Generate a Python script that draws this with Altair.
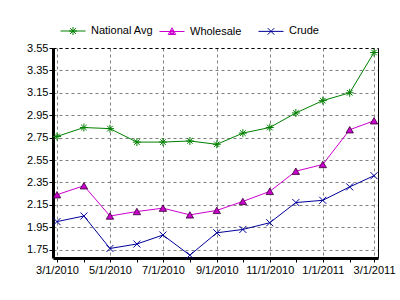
import altair as alt
import pandas as pd

dates = ["2010-03-01", "2010-04-01", "2010-05-01", "2010-06-01", "2010-07-01",
         "2010-08-01", "2010-09-01", "2010-10-01", "2010-11-01", "2010-12-01",
         "2011-01-01", "2011-02-01", "2011-03-01"]
national = [2.76, 2.84, 2.83, 2.71, 2.71, 2.72, 2.69, 2.79, 2.84, 2.97, 3.08, 3.15, 3.51]
wholesale = [2.24, 2.32, 2.05, 2.09, 2.12, 2.06, 2.10, 2.18, 2.27, 2.45, 2.51, 2.82, 2.90]
crude = [2.00, 2.05, 1.76, 1.80, 1.88, 1.70, 1.90, 1.93, 1.99, 2.17, 2.19, 2.31, 2.41]
series_names = ["National Avg", "Wholesale", "Crude"]
colors = ["#008000", "#CC00CC", "#000099"]
y_ticks = [1.75, 1.95, 2.15, 2.35, 2.55, 2.75, 2.95, 3.15, 3.35, 3.55]

rows = []
for name, vals in zip(series_names, [national, wholesale, crude]):
    for d, v in zip(dates, vals):
        rows.append({"date": d, "value": v, "series": name})
df = pd.DataFrame(rows)

FONT = "Liberation Sans"

month_ticks = [alt.DateTime(year=2010 + (2 + i) // 12, month=(2 + i) % 12 + 1, date=1, utc=True)
               for i in range(13)]

xscale = alt.Scale(type="utc", domain=[alt.DateTime(year=2010, month=2, date=24, hours=10, utc=True),
                                       alt.DateTime(year=2011, month=3, date=5, hours=14, utc=True)])
yscale = alt.Scale(domain=[1.675, 3.55], nice=False, zero=False)

even = "utcmonth(datum.value) % 2 == 0"

xaxis = alt.Axis(
    values=month_ticks, title=None,
    labelExpr=f"{even} ? utcFormat(datum.value, '%-m/%-d/%Y') : ''",
    labelFont=FONT, labelFontSize=11, labelColor="black", labelPadding=2,
    tickColor="black", tickSize=4, domainColor="black", domainWidth=3,
    grid=True, gridColor="#808080", gridDash=[3, 3],
    gridOpacity=alt.ConditionalAxisNumber(condition={"test": even, "value": 1}, value=0),
    labelOverlap=False, labelFlush=False,
)
yaxis = alt.Axis(
    values=y_ticks, format=".2f", title=None,
    labelFont=FONT, labelFontSize=11, labelColor="black", labelPadding=1,
    tickColor="black", tickSize=4, domainColor="black", domainWidth=3,
    grid=True, gridColor="#808080", gridDash=[3, 3],
)

ast_leg = "M-1,0L1,0M-0.32,0L0.32,0M0,-0.32L0,0.32M-0.23,-0.23L0.23,0.23M-0.23,0.23L0.23,-0.23"
tri_leg = ("M-1,0L1,0M0,-0.3L0.3,0.24L-0.3,0.24Z"
           "M0,-0.14L0.16,0.16L-0.16,0.16Z M0,-0.05L0,0.2")
x_leg = "M-1,0L1,0M-0.26,-0.26L0.26,0.26M-0.26,0.26L0.26,-0.26"

legend = alt.Legend(
    orient="none", legendX=7, legendY=-30, direction="horizontal", columns=3,
    gridAlign="all", title=None, symbolSize=625, labelOffset=5,
    columnPadding=3, labelFont=FONT, labelFontSize=11, labelColor="black",
    symbolStrokeWidth=1,
)

base = alt.Chart(df)

ast = "M-1,0L1,0M0,-1L0,1M-0.7,-0.7L0.7,0.7M-0.7,0.7L0.7,-0.7"
xs = "M-1,-1L1,1M-1,1L1,-1"

layers = []
for i, name in enumerate(series_names):
    ln = base.transform_filter(alt.datum.series == name).mark_line(strokeWidth=1, color=colors[i])
    if i == 0:
        ln = ln.encode(x=alt.X("date:T", scale=xscale, axis=xaxis),
                       y=alt.Y("value:Q", scale=yscale, axis=yaxis))
    else:
        ln = ln.encode(x=alt.X("date:T", axis=None), y=alt.Y("value:Q", axis=None))
    layers.append(ln)

pts_nat = base.transform_filter(alt.datum.series == "National Avg").mark_point(
    shape=ast, size=64, filled=False, color=colors[0], strokeWidth=1, opacity=1
).encode(x=alt.X("date:T", axis=None), y=alt.Y("value:Q", axis=None))

pts_wh = base.transform_filter(alt.datum.series == "Wholesale").mark_point(
    shape="triangle-up", size=55, filled=True, fill=colors[1], stroke="#330033",
    strokeWidth=0.8, opacity=1
).encode(x=alt.X("date:T", axis=None), y=alt.Y("value:Q", axis=None))

pts_cr = base.transform_filter(alt.datum.series == "Crude").mark_point(
    shape=xs, size=49, filled=False, color=colors[2], strokeWidth=1, opacity=1
).encode(x=alt.X("date:T", axis=None), y=alt.Y("value:Q", axis=None))

legend_layer = base.mark_point(strokeWidth=1, opacity=0).encode(
    x=alt.X("date:T", axis=None),
    y=alt.Y("value:Q", axis=None),
    shape=alt.Shape("series:N", scale=alt.Scale(domain=series_names, range=[ast_leg, tri_leg, x_leg]),
                    legend=legend),
    stroke=alt.Stroke("series:N", scale=alt.Scale(domain=series_names, range=colors)),
)

border = base.mark_line(opacity=0).encode(
    x=alt.X("date:T", axis=alt.Axis(orient="top", labels=False, ticks=False, grid=False,
                                    domainColor="black", domainWidth=1, domainDash=[3, 3], title=None)),
    y=alt.Y("value:Q", axis=alt.Axis(orient="right", labels=False, ticks=False, grid=False,
                                     domainColor="black", domainWidth=1, title=None)),
    detail="series:N",
)

chart = alt.layer(*layers, pts_nat, pts_wh, pts_cr, legend_layer, border).resolve_axis(
    x="independent", y="independent"
).properties(
    width=325, height=210,
    autosize=alt.AutoSizeParams(type="none"),
    padding={"left": 53, "top": 48, "right": 22, "bottom": 42},
    background="white",
).configure_view(stroke=None)

chart.save("out.html", embed_options={"renderer": "svg", "actions": False})
